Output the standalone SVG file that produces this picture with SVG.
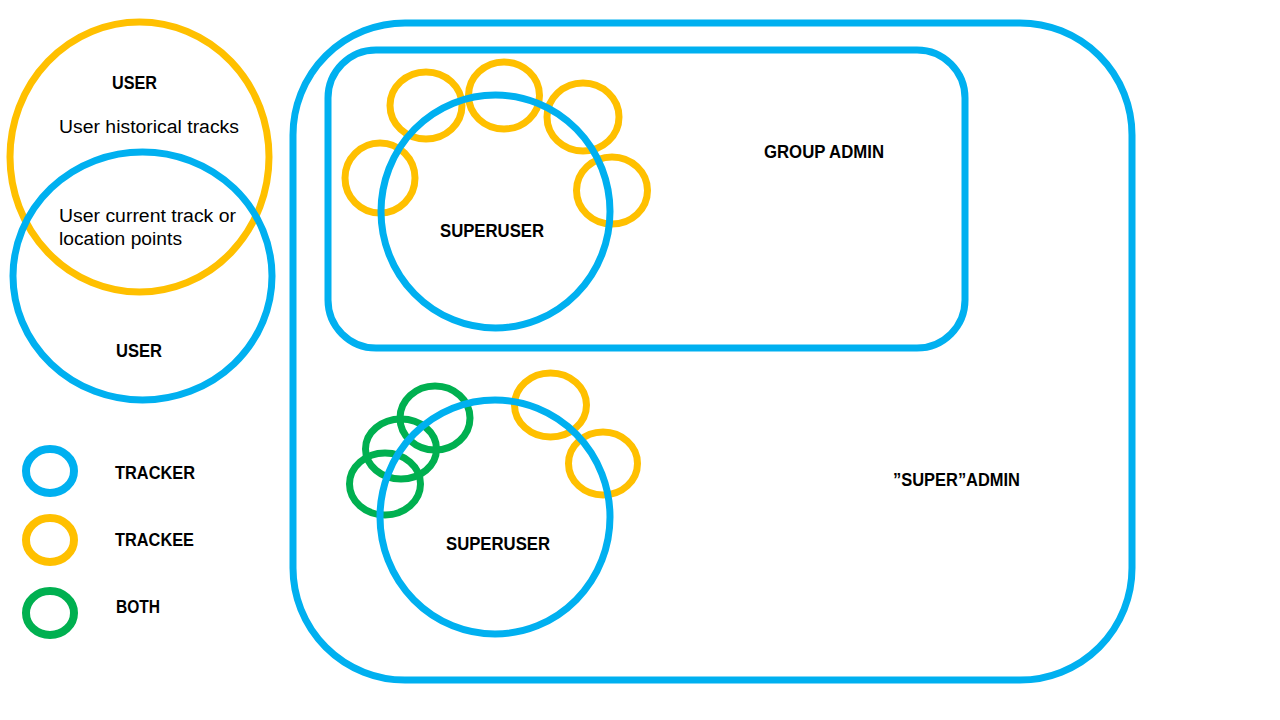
<svg xmlns="http://www.w3.org/2000/svg" width="1280" height="720" viewBox="0 0 1280 720">
  <style>
    .blue { fill: none; stroke: #00B0F0; stroke-width: 7; }
    .orange { fill: none; stroke: #FFC000; stroke-width: 7; }
    .green { fill: none; stroke: #00B050; stroke-width: 7; }
    .lbl { font-family: "Liberation Sans", Arial, sans-serif; font-weight: bold; font-size: 17.5px; fill: #000; }
    .txt { font-family: "Liberation Sans", Arial, sans-serif; font-size: 18px; fill: #000; }
  </style>
  <rect width="1280" height="720" fill="#ffffff"/>

  <g id="super-admin">
    <rect class="blue" x="293" y="23" width="839" height="657" rx="112" ry="112"/>
    <text class="lbl" x="893" y="486" textLength="127" lengthAdjust="spacingAndGlyphs">”SUPER”ADMIN</text>
  </g>

  <g id="group-admin">
    <rect class="blue" x="328" y="50" width="637" height="298" rx="48" ry="48"/>
    <text class="lbl" x="764" y="158" textLength="120" lengthAdjust="spacingAndGlyphs">GROUP ADMIN</text>
  </g>

  <g id="user-trackee">
    <ellipse class="orange" cx="139.5" cy="157" rx="129.5" ry="135"/>
    <text class="lbl" x="112" y="89" textLength="45" lengthAdjust="spacingAndGlyphs">USER</text>
    <text class="txt" x="59" y="133" textLength="180" lengthAdjust="spacingAndGlyphs">User historical tracks</text>
  </g>

  <g id="user-tracker">
    <ellipse class="blue" cx="142.5" cy="276" rx="129.5" ry="124"/>
    <text class="txt" x="59" y="222" textLength="177" lengthAdjust="spacingAndGlyphs">User current track or</text>
    <text class="txt" x="59" y="245" textLength="123" lengthAdjust="spacingAndGlyphs">location points</text>
    <text class="lbl" x="116" y="357" textLength="46" lengthAdjust="spacingAndGlyphs">USER</text>
  </g>

  <g id="superuser-1">
    <ellipse class="orange" cx="380" cy="178" rx="35" ry="35"/>
    <ellipse class="orange" cx="426" cy="105.5" rx="36" ry="33.5"/>
    <ellipse class="orange" cx="504" cy="95.5" rx="35.5" ry="33.5"/>
    <ellipse class="orange" cx="583" cy="117" rx="36" ry="34"/>
    <ellipse class="orange" cx="612" cy="190.5" rx="35.5" ry="33.5"/>
    <ellipse class="blue" cx="495.5" cy="211.5" rx="114.5" ry="116.5"/>
    <text class="lbl" x="440" y="237" textLength="104" lengthAdjust="spacingAndGlyphs">SUPERUSER</text>
  </g>

  <g id="superuser-2">
    <ellipse class="green" cx="435" cy="418" rx="35" ry="32"/>
    <ellipse class="green" cx="401" cy="449" rx="35.5" ry="30"/>
    <ellipse class="green" cx="385" cy="484" rx="35.5" ry="31"/>
    <ellipse class="orange" cx="550.5" cy="405" rx="36" ry="32"/>
    <ellipse class="orange" cx="603" cy="463.5" rx="34.5" ry="31.5"/>
    <ellipse class="blue" cx="495" cy="517" rx="115" ry="117"/>
    <text class="lbl" x="446" y="550" textLength="104" lengthAdjust="spacingAndGlyphs">SUPERUSER</text>
  </g>

  <g id="legend-tracker">
    <ellipse class="blue" cx="50" cy="471" rx="24" ry="22" style="stroke-width:8"/>
    <text class="lbl" x="115" y="479" textLength="80" lengthAdjust="spacingAndGlyphs">TRACKER</text>
  </g>
  <g id="legend-trackee">
    <ellipse class="orange" cx="50" cy="540" rx="24" ry="22" style="stroke-width:8"/>
    <text class="lbl" x="115" y="546" textLength="79" lengthAdjust="spacingAndGlyphs">TRACKEE</text>
  </g>
  <g id="legend-both">
    <ellipse class="green" cx="50" cy="613" rx="24" ry="22" style="stroke-width:8"/>
    <text class="lbl" x="116" y="613" textLength="44" lengthAdjust="spacingAndGlyphs">BOTH</text>
  </g>

  <g id="connectors"></g>
</svg>
